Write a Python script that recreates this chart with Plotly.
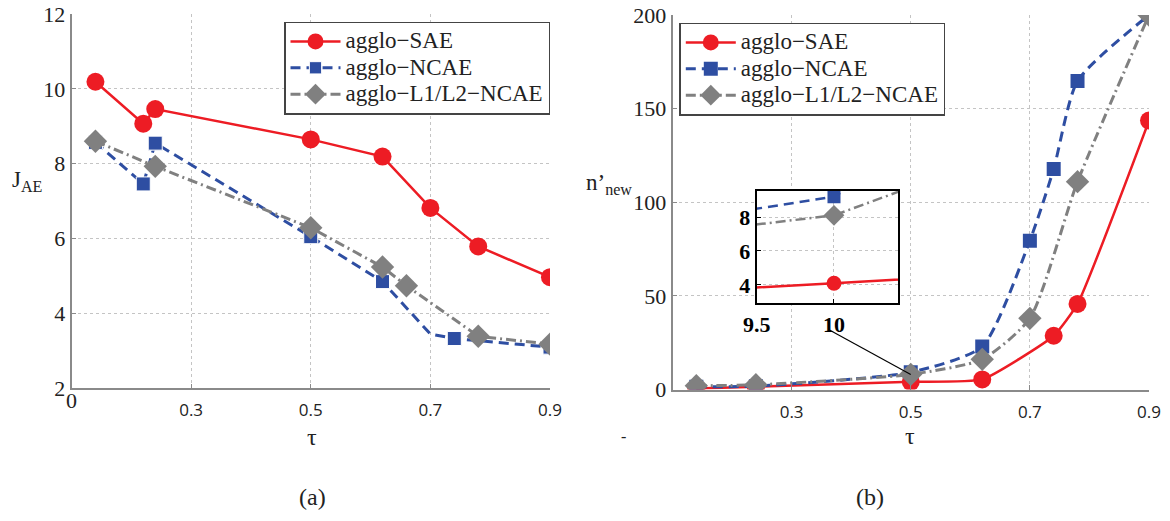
import plotly.graph_objects as go

# ---------------- data ----------------
# (a) J_AE vs tau
tau_a_sae = [0.14, 0.22, 0.24, 0.5, 0.62, 0.7, 0.78, 0.9]
j_sae = [10.19, 9.07, 9.46, 8.65, 8.19, 6.82, 5.79, 4.97]

tau_a_ncae = [0.14, 0.22, 0.24, 0.5, 0.62, 0.7, 0.74, 0.9]
j_ncae = [8.57, 7.46, 8.55, 6.05, 4.85, 3.45, 3.33, 3.10]
ncae_unmarked = [0.7]  # line vertex without marker

tau_a_l1l2 = [0.14, 0.24, 0.5, 0.62, 0.66, 0.78, 0.9]
j_l1l2 = [8.60, 7.93, 6.29, 5.24, 4.74, 3.39, 3.18]

# (b) n'_new vs tau
tau_b_sae = [0.14, 0.24, 0.5, 0.62, 0.74, 0.78, 0.9]
n_sae = [0.6, 1.5, 4.1, 5.4, 28.7, 45.7, 143.6]

tau_b_ncae = [0.14, 0.24, 0.5, 0.62, 0.7, 0.74, 0.78, 0.9]
n_ncae = [1.5, 1.8, 9.2, 22.9, 79.5, 117.8, 164.8, 200.0]

tau_b_l1l2 = [0.14, 0.24, 0.5, 0.62, 0.7, 0.78, 0.9]
n_l1l2 = [2.0, 2.5, 8.1, 16.1, 38.0, 111.0, 200.0]

names = ["agglo\u2212SAE", "agglo\u2212NCAE", "agglo\u2212L1/L2\u2212NCAE"]
x_ticks = [0.3, 0.5, 0.7, 0.9]
y_ticks_a = [2, 4, 6, 8, 10, 12]
y_ticks_b = [0, 50, 100, 150, 200]
inset_scale = 20  # inset x axis = tau * 20
inset_xticks = [9.5, 10]
inset_xticktext = ["9.5", "10"]
inset_yticks = [4, 6, 8]

# ---------------- style ----------------
RED = "#ED1C24"
BLUE = "#2E4EA2"
GRAY = "#808080"
SERIF = "Liberation Serif"
SANS = "Open Sans"
W, H = 1170, 521
DASH_B = "10px,6px"
DASH_G = "10px,4px,2px,4px"


def px(x):
    return x / W


def py(y):
    return 1 - y / H


def legname(s):
    return '<span style="font-size:23px">%s</span>' % s


fig = go.Figure()

ncae_sizes = [0 if t in ncae_unmarked else 14 for t in tau_a_ncae]

# ---- panel (a)
fig.add_trace(go.Scatter(x=tau_a_sae, y=j_sae, mode="lines+markers", name=legname(names[0]),
                         line=dict(color=RED, width=2.5),
                         marker=dict(symbol="circle", size=18, color=RED, opacity=1),
                         xaxis="x", yaxis="y", legend="legend"))
fig.add_trace(go.Scatter(x=tau_a_ncae, y=j_ncae, mode="lines+markers", name=legname(names[1]),
                         line=dict(color=BLUE, width=3, dash=DASH_B),
                         marker=dict(symbol="square", size=ncae_sizes, color=BLUE, opacity=1),
                         xaxis="x", yaxis="y", legend="legend"))
fig.add_trace(go.Scatter(x=tau_a_l1l2, y=j_l1l2, mode="lines+markers", name=legname(names[2]),
                         line=dict(color=GRAY, width=3, dash=DASH_G),
                         marker=dict(symbol="diamond", size=18, color=GRAY, opacity=1),
                         xaxis="x", yaxis="y", legend="legend"))

# ---- panel (b)
fig.add_trace(go.Scatter(x=tau_b_sae, y=n_sae, mode="lines+markers", name=legname(names[0]),
                         line=dict(color=RED, width=2.5, shape="spline", smoothing=0.45),
                         marker=dict(symbol="circle", size=18, color=RED),
                         xaxis="x2", yaxis="y2", legend="legend2"))
fig.add_trace(go.Scatter(x=tau_b_ncae, y=n_ncae, mode="lines+markers", name=legname(names[1]),
                         line=dict(color=BLUE, width=3, dash=DASH_B, shape="spline", smoothing=0.6),
                         marker=dict(symbol="square", size=14, color=BLUE),
                         xaxis="x2", yaxis="y2", legend="legend2"))
fig.add_trace(go.Scatter(x=tau_b_l1l2, y=n_l1l2, mode="lines+markers", name=legname(names[2]),
                         line=dict(color=GRAY, width=3, dash=DASH_G, shape="spline",
                                   smoothing=0.6),
                         marker=dict(symbol="diamond", size=18, color=GRAY),
                         xaxis="x2", yaxis="y2", legend="legend2"))

# ---- inset
for tx, ty, col, dash, sym, sz in [
    (tau_b_ncae, n_ncae, BLUE, DASH_B, "square", 13),
    (tau_b_l1l2, n_l1l2, GRAY, DASH_G, "diamond", 16),
    (tau_b_sae, n_sae, RED, "solid", "circle", 15),
]:
    fig.add_trace(go.Scatter(x=[t * inset_scale for t in tx], y=ty, mode="lines+markers",
                             line=dict(color=col, width=2.5, dash=dash),
                             marker=dict(symbol=sym, size=sz, color=col),
                             xaxis="x3", yaxis="y3", showlegend=False))

grid = dict(showgrid=True, gridcolor="#c4c4c4", griddash="dot", gridwidth=1,
            zeroline=False, showline=True, linecolor="#8a8a8a", linewidth=1.5,
            ticks="inside", ticklen=5, tickcolor="#8a8a8a", automargin=False)

inset_ax = dict(showgrid=True, gridcolor="#c4c4c4", griddash="dot", zeroline=False,
                showline=True, mirror=True, linecolor="black", linewidth=2,
                ticks="inside", ticklen=4, tickcolor="black", automargin=False,
                tickfont=dict(family=SERIF, size=22, color="black", weight="bold"))

legend_common = dict(xanchor="left", yanchor="top", bgcolor="white", bordercolor="#444",
                     borderwidth=1.5, font=dict(family=SERIF, size=18, color="#222"),
                     itemwidth=50, tracegroupgap=0)

fig.update_layout(
    width=W, height=H, margin=dict(l=0, r=0, t=0, b=0, autoexpand=False),
    paper_bgcolor="white", plot_bgcolor="white",
    xaxis=dict(domain=[px(71.5), px(550)], range=[0.1, 0.9], tickvals=x_ticks,
               tickfont=dict(family=SANS, size=17, color="#222"), anchor="y",
               ticklabelstandoff=6, **grid),
    yaxis=dict(domain=[py(388.3), py(14)], range=[2, 12], tickvals=y_ticks_a,
               tickfont=dict(family=SERIF, size=22, color="#222"), anchor="x", **grid),
    xaxis2=dict(domain=[px(672.5), px(1149)], range=[0.1, 0.9], tickvals=x_ticks,
                tickfont=dict(family=SANS, size=17, color="#222"), anchor="y2",
                ticklabelstandoff=6, **grid),
    yaxis2=dict(domain=[py(389.5), py(15)], range=[0, 200], tickvals=y_ticks_b,
                tickfont=dict(family=SERIF, size=22, color="#222"), anchor="x2", **grid),
    xaxis3=dict(domain=[px(756.7), px(898.3)], range=[9.5, 10.416], tickvals=inset_xticks,
                ticktext=inset_xticktext, anchor="y3", **inset_ax),
    yaxis3=dict(domain=[py(303.3), py(190.7)], range=[2.92, 9.55], tickvals=inset_yticks,
                anchor="x3", **inset_ax),
    legend=dict(x=px(284), y=py(21.7), **legend_common),
    legend2=dict(x=px(679.3), y=py(22.7), **legend_common),
    showlegend=True,
)

# connector from inset label to the zoomed point
fig.add_shape(type="line", xref="x2", yref="y2", x0=0.362, y0=32, x1=0.5, y1=8,
              line=dict(color="black", width=1.2))

ann = [
    dict(text="J<sub>AE</sub>", x=px(27), y=py(181), font=dict(family=SERIF, size=23, color="#222")),
    dict(text="n\u2019<sub>new</sub>", x=px(609), y=py(184), font=dict(family=SERIF, size=23, color="#222")),
    dict(text="\u03c4", x=px(312), y=py(437), font=dict(family=SERIF, size=24, color="#222")),
    dict(text="\u03c4", x=px(910), y=py(436), font=dict(family=SERIF, size=24, color="#222")),
    dict(text="0", x=px(71), y=py(400), font=dict(family=SERIF, size=22, color="#222")),
    dict(text="-", x=px(623), y=py(436), font=dict(family=SERIF, size=16, color="#222")),
    dict(text="(a)", x=px(312), y=py(497), font=dict(family=SERIF, size=24, color="#222")),
    dict(text="(b)", x=px(870), y=py(497), font=dict(family=SERIF, size=24, color="#222")),
]
for a in ann:
    fig.add_annotation(xref="paper", yref="paper", showarrow=False,
                       xanchor="center", yanchor="middle", **a)

fig.write_html("out.html",
               post_script="document.body.style.margin='0';"
                           "document.documentElement.style.overflow='hidden';")
